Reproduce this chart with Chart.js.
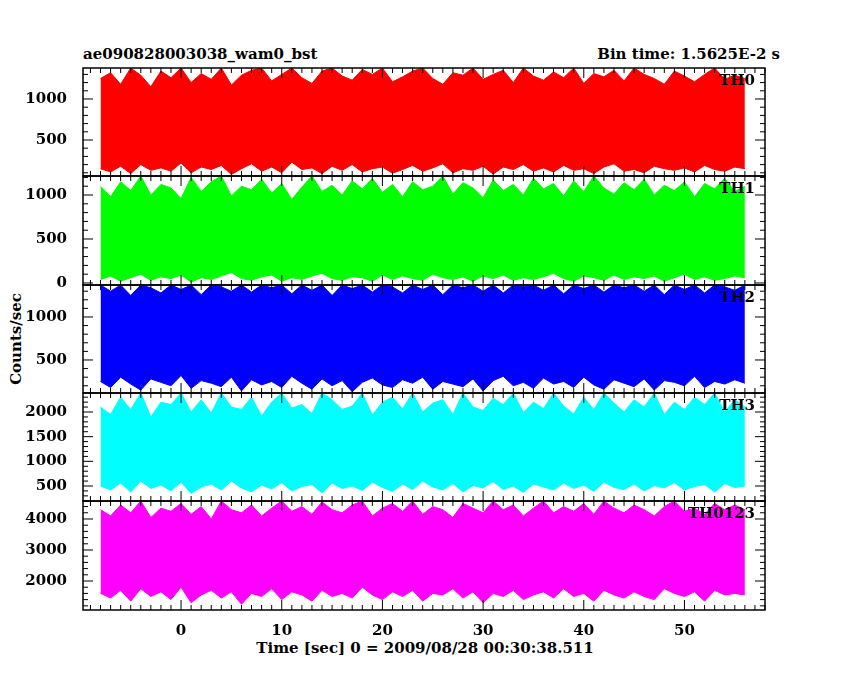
<!DOCTYPE html>
<html><head><meta charset="utf-8">
<script src="https://cdn.jsdelivr.net/npm/chart.js@4"></script>
<style>body{margin:0;background:#fff;width:850px;height:680px;position:relative;overflow:hidden;font-family:"DejaVu Serif",serif}
canvas{position:absolute;left:0;top:0}
.t{position:absolute;font-size:15px;font-weight:bold;color:#000;white-space:nowrap}</style></head><body>
<div class="t" style="left:83px;top:45px">ae090828003038_wam0_bst</div>
<div class="t" style="right:70px;top:45px">Bin time: 1.5625E-2 s</div>
<div class="t" style="left:-30px;top:330px;transform:rotate(-90deg)">Counts/sec</div>
<div class="t" style="left:0;width:850px;text-align:center;top:639px">Time [sec] 0 = 2009/08/28 00:30:38.511</div>
<script>
const times=[-8,-7,-6,-5,-4,-3,-2,-1,0,1,2,3,4,5,6,7,8,9,10,11,12,13,14,15,16,17,18,19,20,21,22,23,24,25,26,27,28,29,30,31,32,33,34,35,36,37,38,39,40,41,42,43,44,45,46,47,48,49,50,51,52,53,54,55,56];
const th0Hi=[1250,1320,1180,1378,1290,1150,1340,1260,1378,1200,1310,1240,1378,1170,1290,1350,1378,1220,1300,1378,1260,1190,1340,1378,1280,1230,1360,1300,1378,1210,1270,1340,1378,1250,1180,1320,1290,1378,1240,1300,1350,1200,1378,1280,1230,1330,1260,1378,1190,1310,1270,1350,1220,1378,1300,1250,1180,1340,1280,1210,1300,1378,1240,1290,1250];
const th0Lo=[150,110,180,90,200,130,160,120,220,100,170,140,190,80,150,210,120,170,100,230,140,160,90,180,130,200,110,150,170,95,140,190,120,160,210,100,150,130,180,85,170,140,200,120,160,110,190,130,150,90,170,210,120,140,100,180,150,130,160,110,190,140,120,170,150];
const th1Hi=[1100,980,1150,1050,1216,1000,1120,1080,960,1200,1040,1150,1216,990,1100,1060,1180,1020,1130,950,1090,1216,1040,1110,1000,1160,1070,1190,1030,1120,980,1150,1060,1100,1216,1010,1140,1080,970,1170,1050,1120,1000,1190,1070,1130,990,1160,1040,1216,1080,1010,1140,1060,1180,1000,1110,1050,1150,980,1130,1070,1190,1040,1100];
const th1Lo=[40,80,20,60,100,30,70,50,90,10,60,40,80,120,50,30,70,90,20,60,40,80,110,50,30,70,60,20,90,40,80,50,30,100,60,40,70,20,80,50,90,30,60,40,70,110,50,20,80,60,30,90,40,70,50,80,20,60,100,40,70,30,50,80,60];
const th2Hi=[1372,1300,1372,1250,1372,1340,1280,1372,1320,1372,1260,1372,1350,1300,1372,1290,1372,1340,1372,1270,1372,1310,1372,1250,1372,1330,1372,1290,1372,1350,1280,1372,1320,1372,1260,1372,1340,1372,1300,1372,1280,1372,1350,1372,1310,1372,1270,1372,1330,1372,1290,1372,1340,1372,1300,1372,1260,1372,1320,1372,1280,1372,1350,1310,1372];
const th2Lo=[250,180,300,220,150,280,240,200,320,170,260,230,190,300,140,270,210,250,180,310,230,160,280,200,260,130,240,290,210,180,270,230,300,160,250,220,190,280,140,260,310,200,240,170,290,220,250,180,300,210,160,270,230,190,280,150,260,240,200,310,180,250,220,270,230];
const th3Hi=[2100,1950,2300,2050,2385,1900,2200,2150,2385,2000,2250,1980,2385,2100,2050,2300,1920,2200,2385,2080,2150,1970,2385,2250,2050,2120,2385,1940,2200,2300,2060,2385,2000,2180,2250,1950,2385,2100,2030,2280,2150,2385,1990,2200,2070,2385,2120,1960,2300,2050,2385,2180,2000,2250,2100,2385,1950,2200,2050,2300,2150,2385,2000,2250,2100];
const th3Lo=[500,420,560,380,600,450,520,400,580,350,480,540,420,600,460,380,520,440,570,400,490,530,360,560,450,500,410,580,470,390,540,430,600,480,420,550,380,510,460,590,430,500,370,540,480,420,560,450,520,390,580,470,430,540,400,510,460,570,420,490,530,380,550,470,500];
const thAHi=[4300,4100,4450,4200,4580,4050,4350,4250,4500,4150,4400,4000,4580,4300,4200,4450,4100,4350,4580,4250,4400,4150,4550,4300,4200,4450,4580,4100,4350,4500,4250,4580,4150,4400,4300,4050,4500,4350,4200,4580,4300,4450,4100,4350,4580,4200,4400,4250,4500,4150,4580,4350,4200,4450,4300,4100,4400,4580,4250,4350,4150,4500,4300,4450,4300];
const thALo=[1600,1450,1700,1350,1750,1500,1650,1400,1800,1300,1550,1700,1450,1650,1250,1600,1500,1750,1400,1650,1550,1350,1700,1500,1600,1450,1800,1550,1400,1650,1500,1700,1350,1600,1550,1750,1450,1650,1300,1600,1500,1700,1400,1550,1650,1450,1750,1500,1600,1350,1700,1550,1450,1650,1500,1400,1750,1600,1500,1650,1350,1700,1550,1600,1550];
const xTicks=[0,10,20,30,40,50];
const panels=[
 {name:'TH0',hi:th0Hi,lo:th0Lo,color:'#ff0000',min:61,max:1378,ticks:[500,1000],minor:100,top:68,bot:176},
 {name:'TH1',hi:th1Hi,lo:th1Lo,color:'#00ff00',min:-23,max:1216,ticks:[0,500,1000],minor:100,top:176,bot:285},
 {name:'TH2',hi:th2Hi,lo:th2Lo,color:'#0000ff',min:116,max:1372,ticks:[500,1000],minor:100,top:285,bot:393},
 {name:'TH3',hi:th3Hi,lo:th3Lo,color:'#00ffff',min:196,max:2385,ticks:[500,1000,1500,2000],minor:100,top:393,bot:501},
 {name:'TH0123',hi:thAHi,lo:thALo,color:'#ff00ff',min:1065,max:4580,ticks:[2000,3000,4000],minor:200,top:501,bot:610}
];
const F={family:'DejaVu Serif',size:15,weight:'bold'};
panels.forEach((p,i)=>{
 const last=i===panels.length-1;
 const c=document.createElement('canvas');document.body.appendChild(c);
 c.style.width='850px';c.style.height='680px';c.width=850;c.height=680;
 const frame={id:'frame',afterDraw(ch){
   const a=ch.chartArea,g=ch.ctx,xs=ch.scales.x,ys=ch.scales.y;
   g.save();g.strokeStyle='#000';g.lineWidth=1.5;g.strokeRect(a.left,a.top,a.right-a.left,a.bottom-a.top);
   g.lineWidth=1;g.beginPath();
   for(let v=-9;v<=58;v++){const x=xs.getPixelForValue(v);if(x<a.left||x>a.right)continue;const L=v%10===0?10:5;
     g.moveTo(x,a.bottom);g.lineTo(x,a.bottom-L);g.moveTo(x,a.top);g.lineTo(x,a.top+L);}
   for(let v=Math.ceil(p.min/p.minor)*p.minor;v<=p.max;v+=p.minor){const y=ys.getPixelForValue(v);const L=p.ticks.includes(v)?10:5;
     g.moveTo(a.left,y);g.lineTo(a.left+L,y);g.moveTo(a.right,y);g.lineTo(a.right-L,y);}
   g.stroke();
   g.fillStyle='#000';g.font='bold 15px "DejaVu Serif"';g.textAlign='right';g.textBaseline='top';g.fillText(p.name,a.right-10,a.top+6);
   g.restore();}};
 new Chart(c,{type:'line',
  data:{datasets:[
   {data:times.map((t,k)=>({x:t,y:p.hi[k]})),borderColor:p.color,backgroundColor:p.color,borderWidth:1,pointRadius:0,tension:0,fill:'+1'},
   {data:times.map((t,k)=>({x:t,y:p.lo[k]})),borderColor:p.color,borderWidth:1,pointRadius:0,tension:0,fill:false}]},
  options:{responsive:false,animation:false,devicePixelRatio:1,
   layout:{padding:{top:p.top,bottom:last?0:680-p.bot,right:85,left:0}},
   plugins:{legend:{display:false},tooltip:{enabled:false}},
   scales:{
    x:{type:'linear',min:-9.74,max:58.0,
      afterBuildTicks:s=>{s.ticks=xTicks.map(v=>({value:v}));},
      afterFit:s=>{s.height=last?680-p.bot:0;},
      grid:{display:false},border:{display:false},
      ticks:{display:last,color:'#000',font:F,maxRotation:0,padding:4,callback:v=>String(v)}},
    y:{min:p.min,max:p.max,position:'left',
      afterBuildTicks:s=>{s.ticks=p.ticks.map(v=>({value:v}));},
      afterFit:s=>{s.width=83;},
      grid:{display:false},border:{display:false},
      ticks:{color:'#000',font:F,padding:8,callback:v=>String(v)}}}},
  plugins:[frame]});
 const ch=Chart.getChart(c);
 const dx=765-ch.chartArea.right;
 if(dx!==0){ch.options.layout.padding.right=85-dx;ch.update();}
});
</script></body></html>
